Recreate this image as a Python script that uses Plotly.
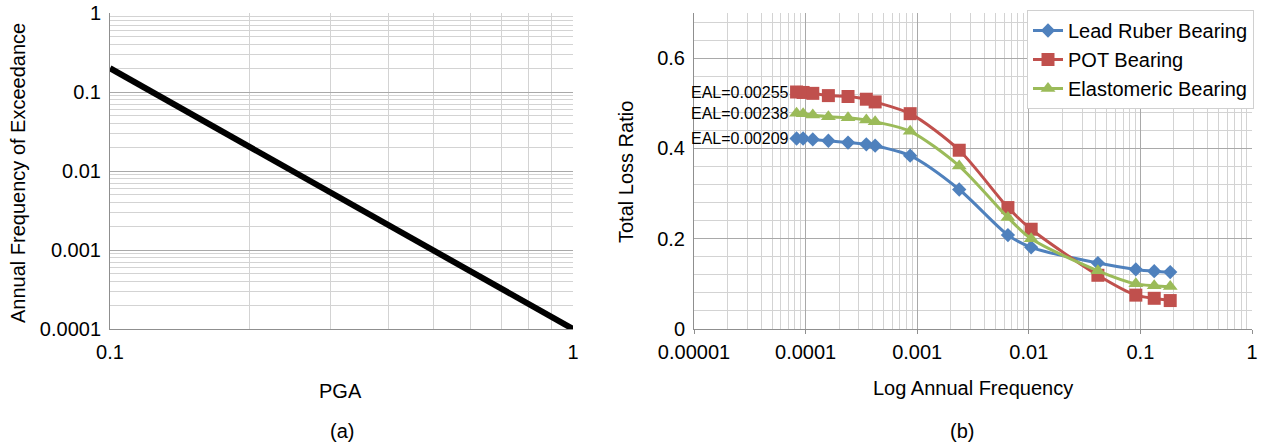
import math
import plotly.graph_objects as go

# ---------------- data ----------------
# (a) hazard curve
pga = [0.1, 1.0]
afe = [0.2, 0.0001]

# (b) loss curves
freq = [8.3e-5, 9.5e-5, 1.16e-4, 1.6e-4, 2.4e-4, 3.5e-4, 4.2e-4, 8.65e-4,
        2.38e-3, 6.5e-3, 1.05e-2, 4.16e-2, 9.1e-2, 1.33e-1, 1.85e-1]
lead_rubber = [0.422, 0.422, 0.420, 0.417, 0.413, 0.409, 0.406, 0.384,
               0.309, 0.208, 0.181, 0.146, 0.132, 0.128, 0.126]
pot = [0.525, 0.524, 0.522, 0.517, 0.515, 0.509, 0.503, 0.477,
       0.396, 0.269, 0.221, 0.119, 0.075, 0.068, 0.063]
elastomeric = [0.478, 0.477, 0.474, 0.470, 0.468, 0.463, 0.459, 0.438,
               0.361, 0.247, 0.200, 0.129, 0.100, 0.096, 0.094]
series_names = ["Lead Ruber Bearing", "POT Bearing", "Elastomeric Bearing"]
eal_labels = ["EAL=0.00209", "EAL=0.00255", "EAL=0.00238"]

# tick labels
a_xticks = [0.1, 1]
a_xtext = ["0.1", "1"]
a_yticks = [0.0001, 0.001, 0.01, 0.1, 1]
a_ytext = ["0.0001", "0.001", "0.01", "0.1", "1"]
b_xticks = [0.00001, 0.0001, 0.001, 0.01, 0.1, 1]
b_xtext = ["0.00001", "0.0001", "0.001", "0.01", "0.1", "1"]

# ---------------- styling ----------------
W, H = 1263, 444
FONT = "Liberation Sans, Arial, sans-serif"
FS = 20
MAJ = "#a9a9a9"
MIN = "#d3d3d3"
AXL = "#8f8f8f"
colors = ["#4F81BD", "#C0504D", "#9BBB59"]
symbols = ["diamond", "square", "triangle-up"]
msizes = [11, 13, 13]


def minor_vals(lo_exp, hi_exp):
    vals = []
    for e in range(lo_exp, hi_exp):
        for m in range(2, 10):
            vals.append(m * 10 ** e)
    return vals


def px_x(px):
    return px / W


def px_y(py):
    return (H - py) / H


fig = go.Figure()

fig.add_trace(go.Scatter(x=pga, y=afe, mode="lines",
                         line=dict(color="black", width=6),
                         showlegend=False, xaxis="x", yaxis="y"))

for name, vals, c, s, ms in zip(series_names, [lead_rubber, pot, elastomeric],
                                colors, symbols, msizes):
    fig.add_trace(go.Scatter(x=freq, y=vals, name=name, mode="lines+markers",
                             line=dict(color=c, width=3, shape="spline", smoothing=0.8),
                             marker=dict(symbol=s, size=ms, color=c),
                             xaxis="x2", yaxis="y2"))

ydom = [px_y(329), px_y(13)]

axis_common = dict(showline=True, linecolor=AXL, linewidth=1, zeroline=False,
                   tickfont=dict(family=FONT, size=FS, color="black"),
                   automargin=False, gridcolor=MAJ, gridwidth=1)

fig.update_layout(
    width=W, height=H, autosize=False,
    margin=dict(l=0, r=0, t=0, b=0),
    paper_bgcolor="white", plot_bgcolor="white",
    font=dict(family=FONT, size=FS, color="black"),
    xaxis=dict(domain=[px_x(110), px_x(573)], anchor="y", type="log",
               range=[-1, 0], tickmode="array", tickvals=a_xticks, ticktext=a_xtext,
               ticks="", ticklabelstandoff=5, mirror=False,
               minor=dict(tickmode="array", tickvals=minor_vals(-1, 0),
                          showgrid=True, gridcolor=MIN, ticks=""),
               **axis_common),
    yaxis=dict(domain=ydom, anchor="x", type="log", range=[-4, 0],
               tickmode="array", tickvals=a_yticks, ticktext=a_ytext,
               ticks="", ticklabelstandoff=4,
               minor=dict(tickmode="array", tickvals=minor_vals(-4, 0),
                          showgrid=True, gridcolor=MIN, ticks=""),
               **axis_common),
    xaxis2=dict(domain=[px_x(694), px_x(1252)], anchor="y2", type="log",
                range=[-5, 0], tickmode="array", tickvals=b_xticks, ticktext=b_xtext,
                ticks="outside", ticklen=4, tickcolor=AXL, ticklabelstandoff=1,
                minor=dict(tickmode="array", tickvals=minor_vals(-5, 0),
                           showgrid=True, gridcolor=MIN, ticks=""),
                **axis_common),
    yaxis2=dict(domain=ydom, anchor="x2", range=[0, 0.7],
                tickmode="linear", tick0=0, dtick=0.2, ticks="", ticklabelstandoff=4,
                minor=dict(dtick=0.04, showgrid=True, gridcolor=MIN, ticks=""),
                **axis_common),
    legend=dict(x=px_x(1254), y=px_y(10), xanchor="right", yanchor="top",
                bgcolor="white", bordercolor="#d0d0d0", borderwidth=1,
                font=dict(family=FONT, size=FS, color="black"),
                tracegroupgap=0, itemwidth=30),
)

ann = []
ann.append(dict(text="PGA", x=px_x(341), y=px_y(391), xref="paper", yref="paper",
                showarrow=False, xanchor="center", yanchor="middle", font=dict(size=FS)))
ann.append(dict(text="(a)", x=px_x(342), y=px_y(431), xref="paper", yref="paper",
                showarrow=False, xanchor="center", yanchor="middle", font=dict(size=FS)))
ann.append(dict(text="Annual Frequency of Exceedance", x=px_x(18), y=px_y(173),
                xref="paper", yref="paper", textangle=-90, showarrow=False,
                xanchor="center", yanchor="middle", font=dict(size=FS)))
ann.append(dict(text="Log Annual Frequency", x=px_x(973), y=px_y(388), xref="paper",
                yref="paper", showarrow=False, xanchor="center", yanchor="middle",
                font=dict(size=FS)))
ann.append(dict(text="(b)", x=px_x(962), y=px_y(431), xref="paper", yref="paper",
                showarrow=False, xanchor="center", yanchor="middle", font=dict(size=FS)))
ann.append(dict(text="Total Loss Ratio", x=px_x(626), y=px_y(172), xref="paper",
                yref="paper", textangle=-90, showarrow=False, xanchor="center",
                yanchor="middle", font=dict(size=FS)))

for lab, vals in zip(eal_labels, [lead_rubber, pot, elastomeric]):
    ann.append(dict(text=lab, x=math.log10(freq[0]), y=vals[0], xref="x2", yref="y2",
                    xanchor="right", yanchor="middle", showarrow=False, xshift=-6,
                    font=dict(size=16, family=FONT, color="black")))

fig.update_layout(annotations=ann)

fig.write_html("out.html", config={"displayModeBar": False})
